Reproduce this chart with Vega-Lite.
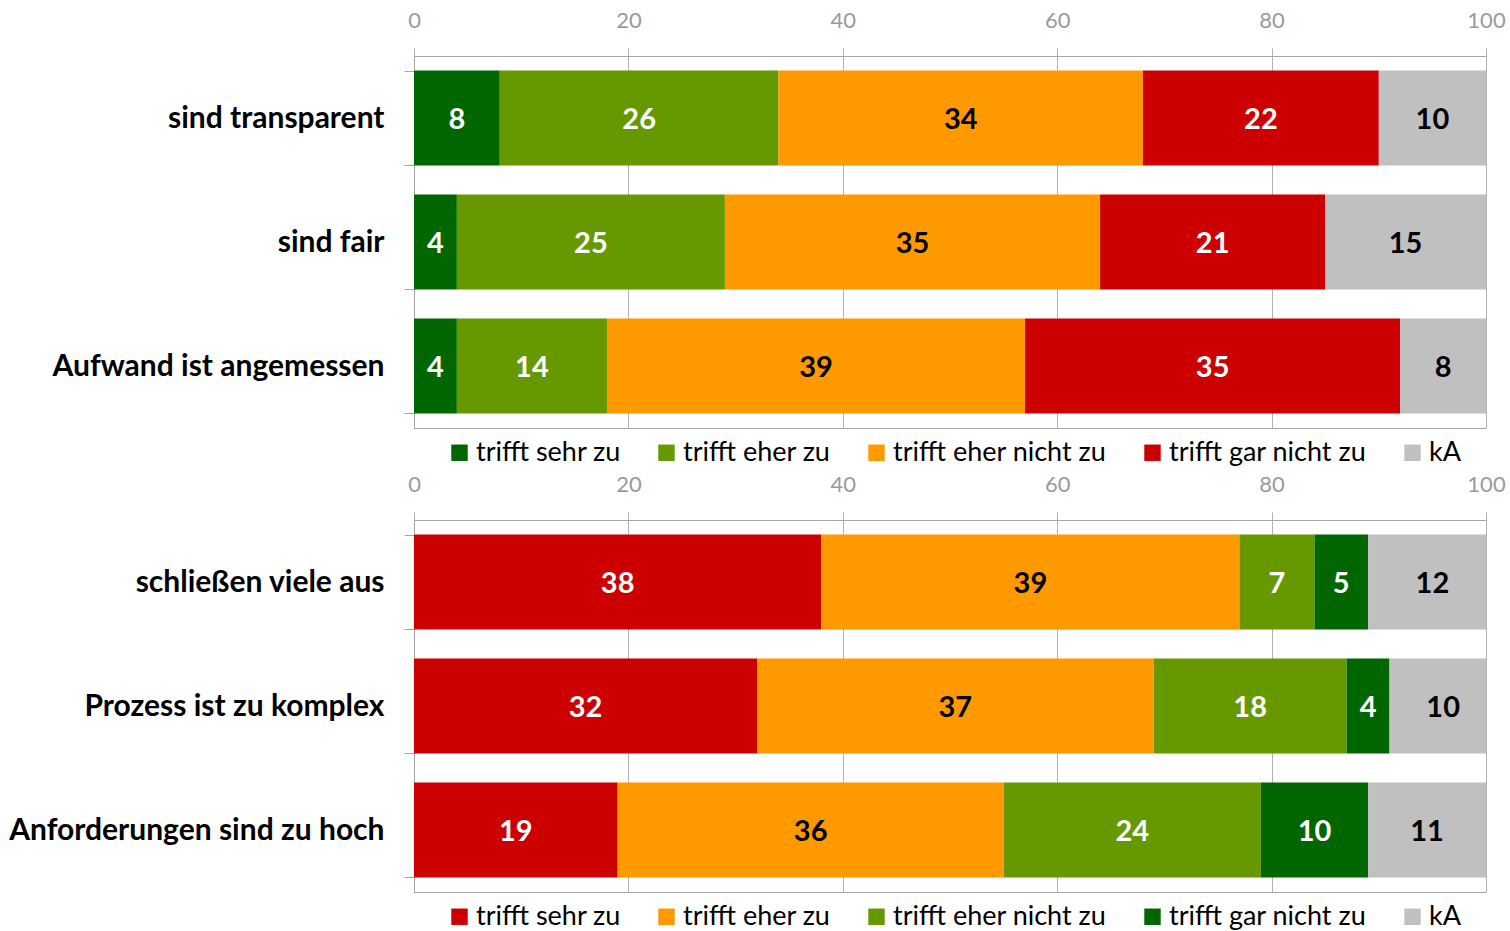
{
  "$schema": "https://vega.github.io/schema/vega-lite/v6.json",
  "padding": {"left": 0, "top": 0, "right": 0, "bottom": 0},
  "spacing": 0,
  "config": {
    "view": {"stroke": "#A6A6A6", "strokeWidth": 1},
    "font": "Lato"
  },
  "datasets": {
    "positive": [
      {"item": "sind transparent", "cat": "trifft sehr zu", "ord": 1, "value": 8},
      {"item": "sind transparent", "cat": "trifft eher zu", "ord": 2, "value": 26},
      {"item": "sind transparent", "cat": "trifft eher nicht zu", "ord": 3, "value": 34},
      {"item": "sind transparent", "cat": "trifft gar nicht zu", "ord": 4, "value": 22},
      {"item": "sind transparent", "cat": "kA", "ord": 5, "value": 10},
      {"item": "sind fair", "cat": "trifft sehr zu", "ord": 1, "value": 4},
      {"item": "sind fair", "cat": "trifft eher zu", "ord": 2, "value": 25},
      {"item": "sind fair", "cat": "trifft eher nicht zu", "ord": 3, "value": 35},
      {"item": "sind fair", "cat": "trifft gar nicht zu", "ord": 4, "value": 21},
      {"item": "sind fair", "cat": "kA", "ord": 5, "value": 15},
      {"item": "Aufwand ist angemessen", "cat": "trifft sehr zu", "ord": 1, "value": 4},
      {"item": "Aufwand ist angemessen", "cat": "trifft eher zu", "ord": 2, "value": 14},
      {"item": "Aufwand ist angemessen", "cat": "trifft eher nicht zu", "ord": 3, "value": 39},
      {"item": "Aufwand ist angemessen", "cat": "trifft gar nicht zu", "ord": 4, "value": 35},
      {"item": "Aufwand ist angemessen", "cat": "kA", "ord": 5, "value": 8}
    ],
    "negative": [
      {"item": "schließen viele aus", "cat": "trifft sehr zu", "ord": 1, "value": 38},
      {"item": "schließen viele aus", "cat": "trifft eher zu", "ord": 2, "value": 39},
      {"item": "schließen viele aus", "cat": "trifft eher nicht zu", "ord": 3, "value": 7},
      {"item": "schließen viele aus", "cat": "trifft gar nicht zu", "ord": 4, "value": 5},
      {"item": "schließen viele aus", "cat": "kA", "ord": 5, "value": 12},
      {"item": "Prozess ist zu komplex", "cat": "trifft sehr zu", "ord": 1, "value": 32},
      {"item": "Prozess ist zu komplex", "cat": "trifft eher zu", "ord": 2, "value": 37},
      {"item": "Prozess ist zu komplex", "cat": "trifft eher nicht zu", "ord": 3, "value": 18},
      {"item": "Prozess ist zu komplex", "cat": "trifft gar nicht zu", "ord": 4, "value": 4},
      {"item": "Prozess ist zu komplex", "cat": "kA", "ord": 5, "value": 10},
      {"item": "Anforderungen sind zu hoch", "cat": "trifft sehr zu", "ord": 1, "value": 19},
      {"item": "Anforderungen sind zu hoch", "cat": "trifft eher zu", "ord": 2, "value": 36},
      {"item": "Anforderungen sind zu hoch", "cat": "trifft eher nicht zu", "ord": 3, "value": 24},
      {"item": "Anforderungen sind zu hoch", "cat": "trifft gar nicht zu", "ord": 4, "value": 10},
      {"item": "Anforderungen sind zu hoch", "cat": "kA", "ord": 5, "value": 11}
    ]
  },
  "resolve": {
    "scale": {"x": "independent", "y": "independent", "color": "independent"},
    "legend": {"color": "independent"}
  },
  "vconcat": [
    {
      "width": 1072,
      "height": 372,
      "data": {"name": "positive"},
      "encoding": {
        "y": {
          "field": "item",
          "type": "nominal",
          "sort": ["sind transparent", "sind fair", "Aufwand ist angemessen"],
          "scale": {"paddingInner": 0.234, "paddingOuter": 0.117},
          "axis": {
            "title": null,
            "labelFont": "Lato",
            "labelFontWeight": "bold",
            "labelFontSize": 30,
            "labelColor": "black",
            "labelPadding": 20,
            "labelLimit": 600,
            "tickSize": 10,
            "tickColor": "#A6A6A6",
            "tickBand": "extent",
            "domainColor": "#A6A6A6",
            "minExtent": 413,
            "grid": false
          }
        }
      },
      "layer": [
        {
          "mark": {"type": "bar", "clip": true},
          "encoding": {
            "x": {
              "field": "value",
              "type": "quantitative",
              "stack": "zero",
              "scale": {"domain": [0, 100], "nice": false},
              "axis": {
                "orient": "top",
                "title": null,
                "values": [0, 20, 40, 60, 80, 100],
                "labelFont": "Lato",
                "labelFontSize": 22,
                "labelColor": "#9A9A9A",
                "labelPadding": 16,
                "labelFlush": false,
                "labelOverlap": false,
                "tickSize": 8,
                "tickColor": "#B4B4B4",
                "grid": true,
                "gridColor": "#B4B4B4",
                "domainColor": "#A6A6A6",
                "minExtent": 55
              }
            },
            "color": {
              "field": "cat",
              "type": "nominal",
              "scale": {
                "domain": ["trifft sehr zu", "trifft eher zu", "trifft eher nicht zu", "trifft gar nicht zu", "kA"],
                "range": ["#006600", "#669900", "#FF9900", "#CC0000", "#C0C0C0"]
              },
              "legend": {
                "orient": "none",
                "legendX": 32,
                "legendY": 383,
                "padding": 0,
                "direction": "horizontal",
                "title": null,
                "symbolType": "square",
                "symbolSize": 270,
                "symbolStrokeWidth": 0,
                "symbolOpacity": 1,
                "labelFont": "Lato",
                "labelFontSize": 27,
                "labelColor": "black",
                "labelOffset": 3,
                "labelLimit": 400,
                "columnPadding": 32
              }
            },
            "order": {"field": "ord", "type": "quantitative"}
          }
        },
        {
          "mark": {"type": "text", "font": "Lato", "fontWeight": "bold", "fontSize": 29, "baseline": "middle", "align": "center", "dy": 2},
          "encoding": {
            "x": {"field": "value", "type": "quantitative", "stack": "zero", "bandPosition": 0.5},
            "detail": {"field": "cat"},
            "order": {"field": "ord", "type": "quantitative"},
            "text": {"field": "value", "type": "quantitative"},
            "color": {
              "condition": {"test": "datum.cat === 'trifft eher nicht zu' || datum.cat === 'kA'", "value": "black"},
              "value": "white"
            }
          }
        }
      ]
    },
    {
      "width": 1072,
      "height": 372,
      "data": {"name": "negative"},
      "encoding": {
        "y": {
          "field": "item",
          "type": "nominal",
          "sort": ["schließen viele aus", "Prozess ist zu komplex", "Anforderungen sind zu hoch"],
          "scale": {"paddingInner": 0.234, "paddingOuter": 0.117},
          "axis": {
            "title": null,
            "labelFont": "Lato",
            "labelFontWeight": "bold",
            "labelFontSize": 30,
            "labelColor": "black",
            "labelPadding": 20,
            "labelLimit": 600,
            "tickSize": 10,
            "tickColor": "#A6A6A6",
            "tickBand": "extent",
            "domainColor": "#A6A6A6",
            "minExtent": 413,
            "grid": false
          }
        }
      },
      "layer": [
        {
          "mark": {"type": "bar", "clip": true},
          "encoding": {
            "x": {
              "field": "value",
              "type": "quantitative",
              "stack": "zero",
              "scale": {"domain": [0, 100], "nice": false},
              "axis": {
                "orient": "top",
                "title": null,
                "values": [0, 20, 40, 60, 80, 100],
                "labelFont": "Lato",
                "labelFontSize": 22,
                "labelColor": "#9A9A9A",
                "labelPadding": 16,
                "labelFlush": false,
                "labelOverlap": false,
                "tickSize": 8,
                "tickColor": "#B4B4B4",
                "grid": true,
                "gridColor": "#B4B4B4",
                "domainColor": "#A6A6A6",
                "minExtent": 52
              }
            },
            "color": {
              "field": "cat",
              "type": "nominal",
              "scale": {
                "domain": ["trifft sehr zu", "trifft eher zu", "trifft eher nicht zu", "trifft gar nicht zu", "kA"],
                "range": ["#CC0000", "#FF9900", "#669900", "#006600", "#C0C0C0"]
              },
              "legend": {
                "orient": "none",
                "legendX": 32,
                "legendY": 383,
                "padding": 0,
                "direction": "horizontal",
                "title": null,
                "symbolType": "square",
                "symbolSize": 270,
                "symbolStrokeWidth": 0,
                "symbolOpacity": 1,
                "labelFont": "Lato",
                "labelFontSize": 27,
                "labelColor": "black",
                "labelOffset": 3,
                "labelLimit": 400,
                "columnPadding": 32
              }
            },
            "order": {"field": "ord", "type": "quantitative"}
          }
        },
        {
          "mark": {"type": "text", "font": "Lato", "fontWeight": "bold", "fontSize": 29, "baseline": "middle", "align": "center", "dy": 2},
          "encoding": {
            "x": {"field": "value", "type": "quantitative", "stack": "zero", "bandPosition": 0.5},
            "detail": {"field": "cat"},
            "order": {"field": "ord", "type": "quantitative"},
            "text": {"field": "value", "type": "quantitative"},
            "color": {
              "condition": {"test": "datum.cat === 'trifft eher zu' || datum.cat === 'kA'", "value": "black"},
              "value": "white"
            }
          }
        }
      ]
    }
  ]
}
